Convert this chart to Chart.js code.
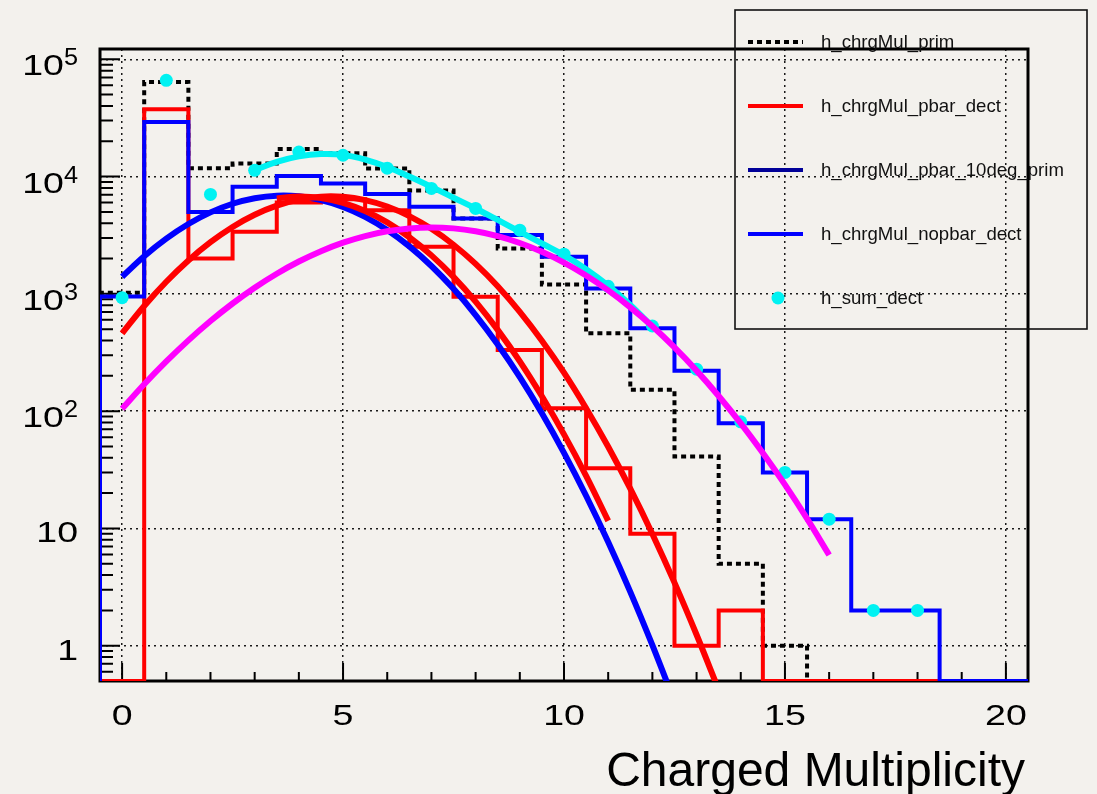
<!DOCTYPE html>
<html>
<head>
<meta charset="utf-8">
<script src="https://cdn.jsdelivr.net/npm/chart.js@4.4.1/dist/chart.umd.min.js"></script>
<style>
  html, body { margin: 0; padding: 0; background: #f3f1ed; }
  canvas { display: block; }
</style>
</head>
<body>
<canvas id="mult" width="1097" height="794"></canvas>
<script>
// ---- histogram contents (bins centred on 0..20, width 1) ----
const binCenters = [0,1,2,3,4,5,6,7,8,9,10,11,12,13,14,15,16,17,18,19,20];
const hPrim        = [1020, 64000, 11800, 12900, 17200, 15800, 11700, 7600, 4400, 2440, 1200, 461, 152, 41, 5, 1, 0, 0, 0, 0, 0];
const hPbarDect    = [0, 37500, 2000, 3380, 6000, 6400, 5170, 2520, 945, 332, 106, 32.6, 9, 1, 2, 0, 0, 0, 0, 0, 0];
const hPbar10Prim  = [];
const hNopbarDect  = [950, 29200, 5000, 8170, 10100, 8730, 7100, 5520, 4400, 3170, 2070, 1110, 508, 221, 79, 30, 12, 2, 2, 0, 0];
const sumX         = [0,1,2,3,4,5,6,7,8,9,10,11,12,13,14,15,16,17,18];
const hSumDect     = [927, 66200, 7040, 11300, 16200, 15200, 11800, 7920, 5350, 3490, 2180, 1160, 532, 228, 81, 30, 12, 2, 2];

// ---- fitted curves ----
const fitNopbarX = [0,0.5,1,1.5,2,2.5,3,3.5,4,4.5,5,5.5,6,6.5,7,7.5,8,8.5,9,9.5,10,10.5,11,11.5,12,12.5];
const fitNopbarY = [1400,2094,2958,3941,4951,5864,6540,6869,6790,6316,5522,4538,3504,2540,1729,1103,660,370,195,95.8,44.1,19.0,7.65,2.88,1.01,0.333];

const fitPbarX = [0,0.5,1,1.5,2,2.5,3,3.5,4,4.5,5,5.5,6,6.5,7,7.5,8,8.5,9,9.5,10,10.5,11,11.5,12,12.5,13,13.5];
const fitPbarY = [461,788,1269,1927,2759,3721,4727,5651,6367,6745,6723,6304,5558,4606,3585,2623,1802,1162,703,399,213,106,49.7,21.8,8.97,3.45,1.24,0.42];

const fitPbarNarrowX = [3.5,4,4.5,5,5.5,6,6.5,7,7.5,8,8.5,9,9.5,10,10.5,11];
const fitPbarNarrowY = [6516,6761,6568,5977,5093,4067,3040,2129,1396,858,493,266,134,63.4,28.1,11.6];

const fitSumX = [3,3.5,4,4.5,5,5.5,6,6.5,7,7.5,8,8.5,9,9.5,10,10.5,11,11.5,12];
const fitSumY = [11350,13335,14859,15560,15311,13964,12078,10000,8166,6607,5346,4266,3388,2692,2138,1622,1175,804,525];

const fitWideX = [0,0.5,1,1.5,2,2.5,3,3.5,4,4.5,5,5.5,6,6.5,7,7.5,8,8.5,9,9.5,10,10.5,11,11.5,12,12.5,13,13.5,14,14.5,15,15.5,16];
const fitWideY = [104.7,169.5,265.1,401.1,586.1,827.7,1128,1485,1886,2311,2731,3112,3416,3615,3684,3616,3415,3105,2716,2284,1846,1434,1071,768,529,349,221.5,134.7,78.6,43.9,23.6,12.1,5.94];

// ---- axes ----
const xMajor = [0, 5, 10, 15, 20];
const xLabels = ['0', '5', '10', '15', '20'];
const yDecades = [1, 10, 100, 1000, 10000, 100000];
const yLabelBase = ['1', '10', '10', '10', '10', '10'];
const yLabelExp  = ['', '', '2', '3', '4', '5'];
const xTitle = 'Charged Multiplicity';
const legendNames = ['h_chrgMul_prim', 'h_chrgMul_pbar_dect', 'h_chrgMul_pbar_10deg_prim', 'h_chrgMul_nopbar_dect', 'h_sum_dect'];

const X_MIN = -0.5, X_MAX = 20.5, Y_MIN = 0.5, Y_MAX = 1.224e5;

// Step outline of a histogram; empty bins sit on the lower edge of the log axis.
function histSteps(counts) {
  const pts = [{ x: -0.5, y: Y_MIN }];
  counts.forEach((c, i) => {
    const v = c > 0 ? c : Y_MIN;
    pts.push({ x: binCenters[i] - 0.5, y: v }, { x: binCenters[i] + 0.5, y: v });
  });
  if (counts.length) pts.push({ x: binCenters[counts.length - 1] + 0.5, y: Y_MIN });
  return pts;
}
function pairs(xs, ys) { return xs.map((x, i) => ({ x, y: ys[i] })); }

const histStyle = { pointRadius: 0, borderWidth: 4, tension: 0, fill: false, borderJoinStyle: 'miter', borderCapStyle: 'butt' };
const fitStyle  = { pointRadius: 0, borderWidth: 6, tension: 0.4, fill: false, borderCapStyle: 'butt', borderJoinStyle: 'round', clip: 0 };

const datasets = [
  Object.assign({ label: 'fit_wide', data: pairs(fitWideX, fitWideY), borderColor: '#ff00ff', order: 0 }, fitStyle),
  Object.assign({ label: 'fit_sum', data: pairs(fitSumX, fitSumY), borderColor: '#00f2f2', order: 1 }, fitStyle),
  Object.assign({ label: 'fit_pbar_narrow', data: pairs(fitPbarNarrowX, fitPbarNarrowY), borderColor: '#ff0000', order: 2 }, fitStyle),
  Object.assign({ label: 'fit_pbar', data: pairs(fitPbarX, fitPbarY), borderColor: '#ff0000', order: 2 }, fitStyle),
  Object.assign({ label: 'fit_nopbar', data: pairs(fitNopbarX, fitNopbarY), borderColor: '#0000ff', order: 3 }, fitStyle),
  { label: legendNames[4], data: pairs(sumX, hSumDect), showLine: false, pointRadius: 6.5, pointHoverRadius: 6.5,
    pointBackgroundColor: '#00f2f2', pointBorderWidth: 0, borderColor: '#00f2f2', order: 4 },
  Object.assign({ label: legendNames[3], data: histSteps(hNopbarDect), borderColor: '#0000ff', order: 5 }, histStyle),
  Object.assign({ label: legendNames[2], data: histSteps(hPbar10Prim), borderColor: '#000099', order: 6 }, histStyle),
  Object.assign({ label: legendNames[1], data: histSteps(hPbarDect), borderColor: '#ff0000', order: 7 }, histStyle),
  Object.assign({ label: legendNames[0], data: histSteps(hPrim), borderColor: '#000000', borderDash: [5, 4], order: 8 }, histStyle),
];

// Text with a horizontal stretch factor.
function wideText(ctx, text, x, y, sx, align) {
  ctx.save();
  ctx.translate(x, y);
  ctx.scale(sx, 1);
  ctx.textAlign = align;
  ctx.fillText(text, 0, 0);
  ctx.restore();
}

// Frame and inward-pointing tick marks.
const framePlugin = {
  id: 'frame',
  beforeDatasetsDraw(chart) {
    const { ctx, chartArea: a } = chart;
    const xs = chart.scales.x, ys = chart.scales.y;
    ctx.save();
    ctx.strokeStyle = '#000';
    ctx.lineWidth = 2;
    ctx.beginPath();
    for (let v = 0; v <= 20; v++) {
      const px = xs.getPixelForValue(v);
      const len = (v % 5 === 0) ? 18 : 9;
      ctx.moveTo(px, a.bottom); ctx.lineTo(px, a.bottom - len);
    }
    for (let d = 0.1; d < Y_MAX; d *= 10) {
      for (let k = 1; k <= 9; k++) {
        const v = k * d;
        if (v < Y_MIN || v > Y_MAX) continue;
        const py = ys.getPixelForValue(v);
        const len = k === 1 ? 20 : 13;
        ctx.moveTo(a.left, py); ctx.lineTo(a.left + len, py);
      }
    }
    ctx.stroke();
    ctx.lineWidth = 3;
    ctx.strokeRect(a.left, a.top, a.right - a.left, a.bottom - a.top);
    ctx.restore();
  }
};

// Tick labels, axis title and the boxed legend.
const labelPlugin = {
  id: 'labels',
  afterDraw(chart) {
    const { ctx } = chart;
    const xs = chart.scales.x, ys = chart.scales.y;
    ctx.save();
    ctx.fillStyle = '#000';
    ctx.textBaseline = 'alphabetic';
    ctx.font = '30px "Liberation Sans", Arial, sans-serif';
    xMajor.forEach((v, i) => wideText(ctx, xLabels[i], xs.getPixelForValue(v), 725, 1.25, 'center'));

    const right = 78;
    yDecades.forEach((v, i) => {
      const py = ys.getPixelForValue(v);
      if (yLabelExp[i]) {
        ctx.font = '23px "Liberation Sans", Arial, sans-serif';
        const ew = ctx.measureText(yLabelExp[i]).width * 1.1;
        wideText(ctx, yLabelExp[i], right, py + 6, 1.1, 'right');
        ctx.font = '30px "Liberation Sans", Arial, sans-serif';
        wideText(ctx, yLabelBase[i], right - ew, py + 16, 1.25, 'right');
      } else {
        ctx.font = '30px "Liberation Sans", Arial, sans-serif';
        wideText(ctx, yLabelBase[i], right, py + 14, 1.25, 'right');
      }
    });

    ctx.font = '48px "Liberation Sans", Arial, sans-serif';
    ctx.textAlign = 'right';
    ctx.fillText(xTitle, 1025, 786);

    // legend
    ctx.strokeStyle = '#111';
    ctx.lineWidth = 1.6;
    ctx.strokeRect(735, 10, 352, 319);
    legendNames.forEach((name, i) => {
      const ds = chart.data.datasets.find(d => d.label === name);
      const y = 42 + i * 64;
      if (ds.showLine === false) {
        ctx.fillStyle = ds.pointBackgroundColor;
        ctx.beginPath(); ctx.arc(778, y, ds.pointRadius, 0, Math.PI * 2); ctx.fill();
      } else {
        ctx.strokeStyle = ds.borderColor;
        ctx.lineWidth = ds.borderWidth;
        ctx.setLineDash(ds.borderDash || []);
        ctx.beginPath(); ctx.moveTo(748, y); ctx.lineTo(803, y); ctx.stroke();
        ctx.setLineDash([]);
      }
      ctx.fillStyle = '#111';
      ctx.font = '18.6px "Liberation Sans", Arial, sans-serif';
      ctx.textAlign = 'left';
      ctx.textBaseline = 'middle';
      ctx.fillText(name, 821, y + 1);
    });
    ctx.restore();
  }
};

new Chart(document.getElementById('mult'), {
  type: 'line',
  data: { datasets },
  options: {
    responsive: false,
    animation: false,
    devicePixelRatio: 1,
    layout: { padding: { left: 100, top: 49, right: 69, bottom: 113 } },
    plugins: { legend: { display: false }, tooltip: { enabled: false } },
    scales: {
      x: {
        type: 'linear', min: X_MIN, max: X_MAX,
        afterBuildTicks: s => { s.ticks = xMajor.map(v => ({ value: v })); },
        ticks: { display: false },
        grid: { color: '#1a1a1a', lineWidth: 1.5, drawTicks: false },
        border: { display: false, dash: [2, 4] }
      },
      y: {
        type: 'logarithmic', min: Y_MIN, max: Y_MAX,
        afterBuildTicks: s => { s.ticks = yDecades.map(v => ({ value: v })); },
        ticks: { display: false },
        grid: { color: '#1a1a1a', lineWidth: 1.5, drawTicks: false },
        border: { display: false, dash: [2, 4] }
      }
    }
  },
  plugins: [framePlugin, labelPlugin]
});
</script>
</body>
</html>
